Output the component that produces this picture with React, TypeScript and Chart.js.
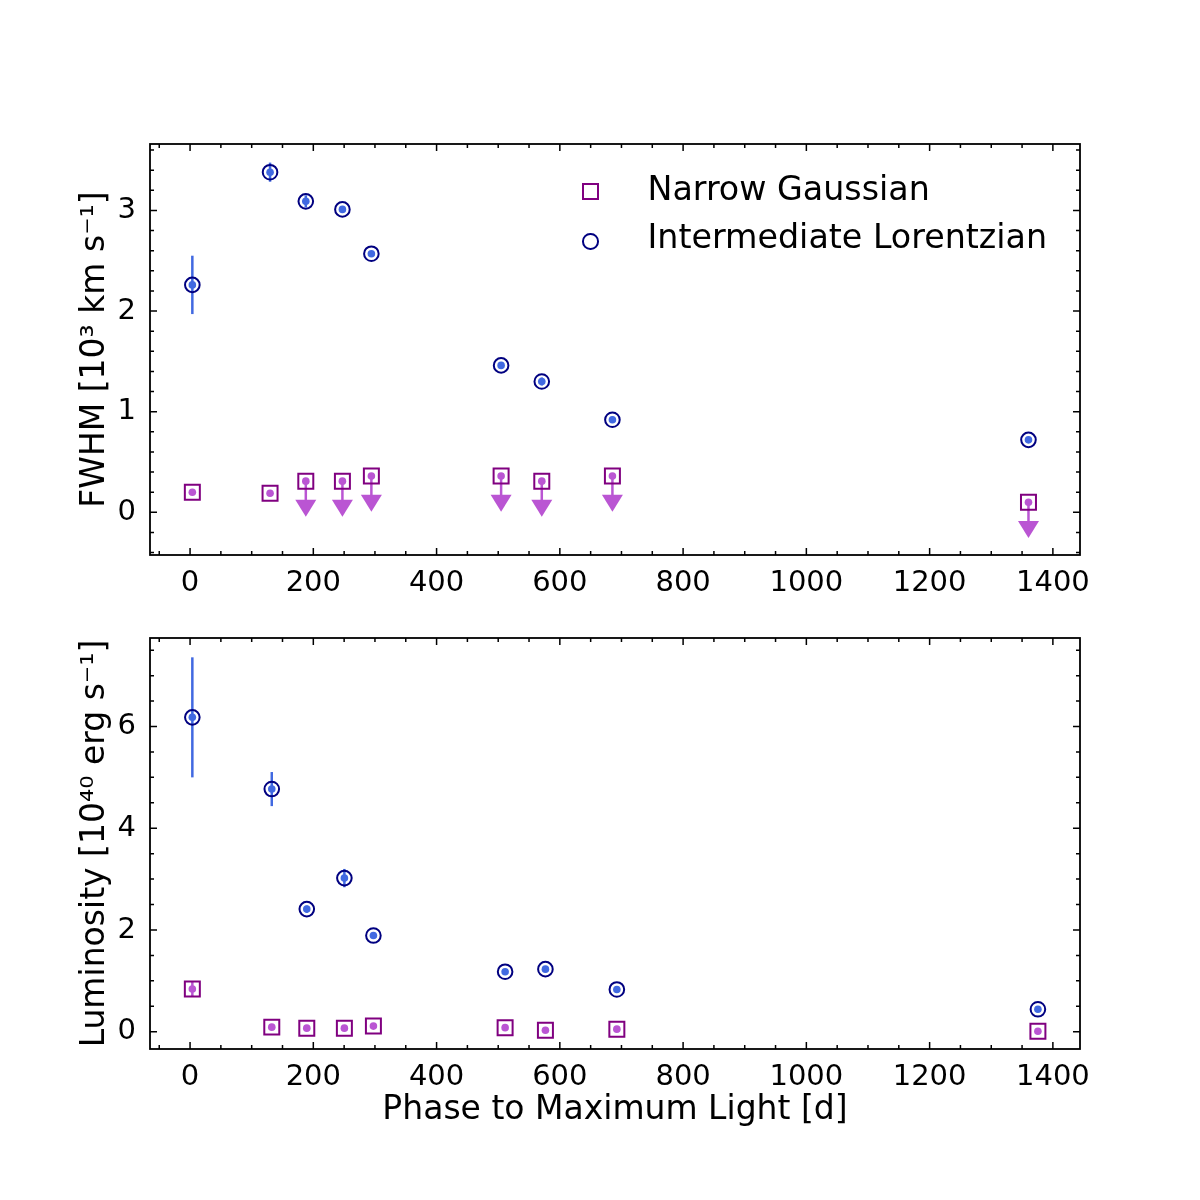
import React, { useEffect, useRef } from 'react';
import { Chart, registerables } from 'chart.js';

Chart.register(...registerables);

// ---------- data ----------
const PHASE_FWHM = [3.7, 129.8, 187.8, 247.2, 294.2, 504.7, 570.7, 685.3, 1360.4];
const FWHM_LORENTZ = [2.26, 3.38, 3.09, 3.01, 2.57, 1.46, 1.3, 0.92, 0.72];
const FWHM_LORENTZ_ERR = [0.29, 0.095, 0.06, 0.02, 0.02, 0.02, 0.04, 0.03, 0.02];
const FWHM_GAUSS = [0.2, 0.19, 0.31, 0.31, 0.36, 0.36, 0.31, 0.36, 0.1];
const FWHM_GAUSS_ERR = [0.01, 0.03, 0, 0, 0, 0, 0, 0, 0];
const FWHM_GAUSS_UPPER = [false, false, true, true, true, true, true, true, true];

const PHASE_LUM = [3.7, 132.6, 189.4, 250.4, 297.5, 511.2, 576.6, 692.5, 1375.7];
const LUM_LORENTZ = [6.18, 4.77, 2.41, 3.02, 1.89, 1.18, 1.23, 0.83, 0.44];
const LUM_LORENTZ_ERR = [1.18, 0.335, 0.07, 0.18, 0.06, 0.03, 0.06, 0.03, 0.02];
const LUM_GAUSS = [0.84, 0.09, 0.07, 0.07, 0.11, 0.08, 0.03, 0.05, 0.01];
const LUM_GAUSS_ERR = [0.15, 0.02, 0.02, 0.02, 0.02, 0.02, 0.02, 0.02, 0.01];
const LUM_GAUSS_UPPER = [false, false, false, false, false, false, false, false, false];

const LEGEND_LABELS = ['Narrow Gaussian', 'Intermediate Lorentzian'];
const X_TITLE = 'Phase to Maximum Light [d]';
const Y_TITLE_FWHM = 'FWHM [10\u00B3 km s\u207B\u00B9]';
const Y_TITLE_LUM = 'Luminosity [10\u2074\u2070 erg s\u207B\u00B9]';

// axis limits / ticks
const X_MIN = -65;
const X_MAX = 1444;
const X_MAJOR = 200;
const X_MINOR = 50;
const FWHM_MIN = -0.424;
const FWHM_MAX = 3.66;
const FWHM_MAJOR = 1;
const FWHM_MINOR = 0.2;
const LUM_MIN = -0.34;
const LUM_MAX = 7.74;
const LUM_MAJOR = 2;
const LUM_MINOR = 0.5;
const UPPER_LIMIT_ARROW = 0.27;

// ---------- styles ----------
const NAVY = '#000080';
const ROYAL = '#4169E1';
const PURPLE = '#800080';
const ORCHID = '#BA55D3';
const FONT = '"DejaVu Sans", "Liberation Sans", sans-serif';

function tickValues(min: number, max: number, step: number): number[] {
  const out: number[] = [];
  const start = Math.ceil(min / step - 1e-9);
  for (let k = start; k * step <= max + 1e-9; k++) out.push(Math.round(k * step * 1e6) / 1e6);
  return out;
}
const isMajor = (v: number, major: number) => Math.abs(v / major - Math.round(v / major)) < 1e-6;
const pts = (xs: number[], ys: number[]) => xs.map((x, i) => ({ x, y: ys[i] }));

interface PanelSpec {
  phase: number[];
  lor: number[];
  lorErr: number[];
  gau: number[];
  gauErr: number[];
  gauUpper: boolean[];
  yMin: number;
  yMax: number;
  yMajor: number;
  yMinor: number;
  yTitle: string;
  xTitle: string | null;
  padTop: number;
  xAxisHeight: number;
}

const TOP_SPEC: PanelSpec = {
  phase: PHASE_FWHM,
  lor: FWHM_LORENTZ,
  lorErr: FWHM_LORENTZ_ERR,
  gau: FWHM_GAUSS,
  gauErr: FWHM_GAUSS_ERR,
  gauUpper: FWHM_GAUSS_UPPER,
  yMin: FWHM_MIN,
  yMax: FWHM_MAX,
  yMajor: FWHM_MAJOR,
  yMinor: FWHM_MINOR,
  yTitle: Y_TITLE_FWHM,
  xTitle: null,
  padTop: 144,
  xAxisHeight: 45,
};

const BOTTOM_SPEC: PanelSpec = {
  phase: PHASE_LUM,
  lor: LUM_LORENTZ,
  lorErr: LUM_LORENTZ_ERR,
  gau: LUM_GAUSS,
  gauErr: LUM_GAUSS_ERR,
  gauUpper: LUM_GAUSS_UPPER,
  yMin: LUM_MIN,
  yMax: LUM_MAX,
  yMajor: LUM_MAJOR,
  yMinor: LUM_MINOR,
  yTitle: Y_TITLE_LUM,
  xTitle: X_TITLE,
  padTop: 38,
  xAxisHeight: 151,
};

function makePlugin(spec: PanelSpec) {
  return {
    id: 'mplPanel',
    beforeDatasetsDraw(chart: any) {
      const ctx = chart.ctx as CanvasRenderingContext2D;
      const xs = chart.scales.x;
      const ys = chart.scales.y;
      ctx.save();
      ctx.lineCap = 'butt';
      ctx.lineWidth = 2.5;
      // Lorentzian error bars
      ctx.strokeStyle = ROYAL;
      spec.phase.forEach((x, i) => {
        const e = spec.lorErr[i];
        if (!e) return;
        const px = xs.getPixelForValue(x);
        ctx.beginPath();
        ctx.moveTo(px, ys.getPixelForValue(spec.lor[i] - e));
        ctx.lineTo(px, ys.getPixelForValue(spec.lor[i] + e));
        ctx.stroke();
      });
      // Gaussian error bars / upper limits
      ctx.strokeStyle = ORCHID;
      ctx.fillStyle = ORCHID;
      spec.phase.forEach((x, i) => {
        const px = xs.getPixelForValue(x);
        if (spec.gauUpper[i]) {
          const y0 = ys.getPixelForValue(spec.gau[i]);
          const y1 = ys.getPixelForValue(spec.gau[i] - UPPER_LIMIT_ARROW);
          ctx.beginPath();
          ctx.moveTo(px, y0);
          ctx.lineTo(px, y1);
          ctx.stroke();
          ctx.beginPath();
          ctx.moveTo(px - 10.5, y1 - 8.5);
          ctx.lineTo(px + 10.5, y1 - 8.5);
          ctx.lineTo(px, y1 + 8.5);
          ctx.closePath();
          ctx.fill();
        } else {
          const e = spec.gauErr[i];
          if (!e) return;
          ctx.beginPath();
          ctx.moveTo(px, ys.getPixelForValue(spec.gau[i] - e));
          ctx.lineTo(px, ys.getPixelForValue(spec.gau[i] + e));
          ctx.stroke();
        }
      });
      ctx.restore();
    },
    afterDraw(chart: any) {
      const ctx = chart.ctx as CanvasRenderingContext2D;
      const { left, right, top, bottom } = chart.chartArea;
      const xs = chart.scales.x;
      const ys = chart.scales.y;
      ctx.save();
      ctx.strokeStyle = '#000';
      ctx.lineWidth = 1.5;
      ctx.beginPath();
      for (const t of xs.ticks) {
        const px = xs.getPixelForValue(t.value);
        const len = isMajor(t.value, X_MAJOR) ? 7 : 4;
        ctx.moveTo(px, bottom);
        ctx.lineTo(px, bottom - len);
        ctx.moveTo(px, top);
        ctx.lineTo(px, top + len);
      }
      for (const t of ys.ticks) {
        const py = ys.getPixelForValue(t.value);
        const len = isMajor(t.value, spec.yMajor) ? 7 : 4;
        ctx.moveTo(left, py);
        ctx.lineTo(left + len, py);
        ctx.moveTo(right, py);
        ctx.lineTo(right - len, py);
      }
      ctx.stroke();
      ctx.lineWidth = 1.8;
      ctx.strokeRect(left, top, right - left, bottom - top);
      ctx.restore();
    },
  };
}

function Panel({ spec, top }: { spec: PanelSpec; top: number }) {
  const ref = useRef<HTMLCanvasElement | null>(null);
  useEffect(() => {
    if (!ref.current) return;
    const tickFont = { family: FONT, size: 29, lineHeight: 1 };
    const titleFont = { family: FONT, size: 33, lineHeight: 1 };
    const chart = new Chart(ref.current, {
      type: 'scatter',
      data: {
        datasets: [
          {
            label: LEGEND_LABELS[0],
            data: pts(spec.phase, spec.gau),
            pointStyle: 'rect',
            pointRadius: 10.6,
            borderColor: PURPLE,
            backgroundColor: 'rgba(0,0,0,0)',
            borderWidth: 2,
            order: 3,
          },
          {
            label: 'gauss-center',
            data: pts(spec.phase, spec.gau),
            pointStyle: 'circle',
            pointRadius: 3.8,
            backgroundColor: ORCHID,
            borderWidth: 0,
            order: 2,
          },
          {
            label: LEGEND_LABELS[1],
            data: pts(spec.phase, spec.lor),
            pointStyle: 'circle',
            pointRadius: 7.3,
            borderColor: NAVY,
            backgroundColor: 'rgba(0,0,0,0)',
            borderWidth: 2,
            order: 1,
          },
          {
            label: 'lorentz-center',
            data: pts(spec.phase, spec.lor),
            pointStyle: 'circle',
            pointRadius: 3.8,
            backgroundColor: ROYAL,
            borderWidth: 0,
            order: 0,
          },
        ],
      } as any,
      options: {
        responsive: false,
        animation: false,
        events: [],
        layout: { padding: { left: 0, right: 120, top: spec.padTop, bottom: 0 } },
        plugins: { legend: { display: false }, tooltip: { enabled: false } },
        scales: {
          x: {
            type: 'linear',
            min: X_MIN,
            max: X_MAX,
            afterBuildTicks: (s: any) => {
              s.ticks = tickValues(X_MIN, X_MAX, X_MINOR).map((v) => ({ value: v }));
            },
            afterFit: (s: any) => {
              s.height = spec.xAxisHeight;
            },
            grid: { display: false },
            border: { display: false },
            ticks: {
              autoSkip: false,
              maxRotation: 0,
              padding: 6,
              color: '#000',
              font: tickFont,
              callback: (v: any) => (isMajor(Number(v), X_MAJOR) ? String(Math.round(Number(v))) : ''),
            },
            title: {
              display: !!spec.xTitle,
              text: spec.xTitle || '',
              color: '#000',
              font: titleFont,
              padding: { top: 0, bottom: 73 },
            },
          },
          y: {
            type: 'linear',
            min: spec.yMin,
            max: spec.yMax,
            afterBuildTicks: (s: any) => {
              s.ticks = tickValues(spec.yMin, spec.yMax, spec.yMinor).map((v) => ({ value: v }));
            },
            afterFit: (s: any) => {
              s.width = 150;
            },
            grid: { display: false },
            border: { display: false },
            ticks: {
              autoSkip: false,
              padding: 6,
              color: '#000',
              font: tickFont,
              callback: (v: any) => (isMajor(Number(v), spec.yMajor) ? String(Math.round(Number(v))) : ''),
            },
            title: {
              display: true,
              text: spec.yTitle,
              color: '#000',
              font: titleFont,
              padding: { top: 78.5, bottom: 0 },
            },
          },
        },
      } as any,
      plugins: [makePlugin(spec)],
    });
    return () => chart.destroy();
  }, [spec]);
  return (
    <canvas
      ref={ref}
      width={1200}
      height={600}
      style={{ position: 'absolute', left: 0, top, width: 1200, height: 600 }}
    />
  );
}

const legendText: React.CSSProperties = {
  position: 'absolute',
  left: 647.5,
  fontFamily: FONT,
  fontSize: 33.3,
  lineHeight: 1,
  whiteSpace: 'nowrap',
  color: '#000',
};

export default function App() {
  return (
    <div style={{ position: 'absolute', left: 0, top: 0, width: 1200, height: 1200, background: '#fff', overflow: 'hidden' }}>
      <Panel spec={TOP_SPEC} top={0} />
      <Panel spec={BOTTOM_SPEC} top={600} />
      <div
        style={{
          position: 'absolute',
          left: 582,
          top: 183,
          width: 16.5,
          height: 16.5,
          boxSizing: 'border-box',
          border: `2px solid ${PURPLE}`,
        }}
      />
      <div
        style={{
          position: 'absolute',
          left: 582,
          top: 233,
          width: 16.5,
          height: 16.5,
          boxSizing: 'border-box',
          border: `2px solid ${NAVY}`,
          borderRadius: '50%',
        }}
      />
      <div style={{ ...legendText, top: 171.8 }}>{LEGEND_LABELS[0]}</div>
      <div style={{ ...legendText, top: 220.2 }}>{LEGEND_LABELS[1]}</div>
    </div>
  );
}
